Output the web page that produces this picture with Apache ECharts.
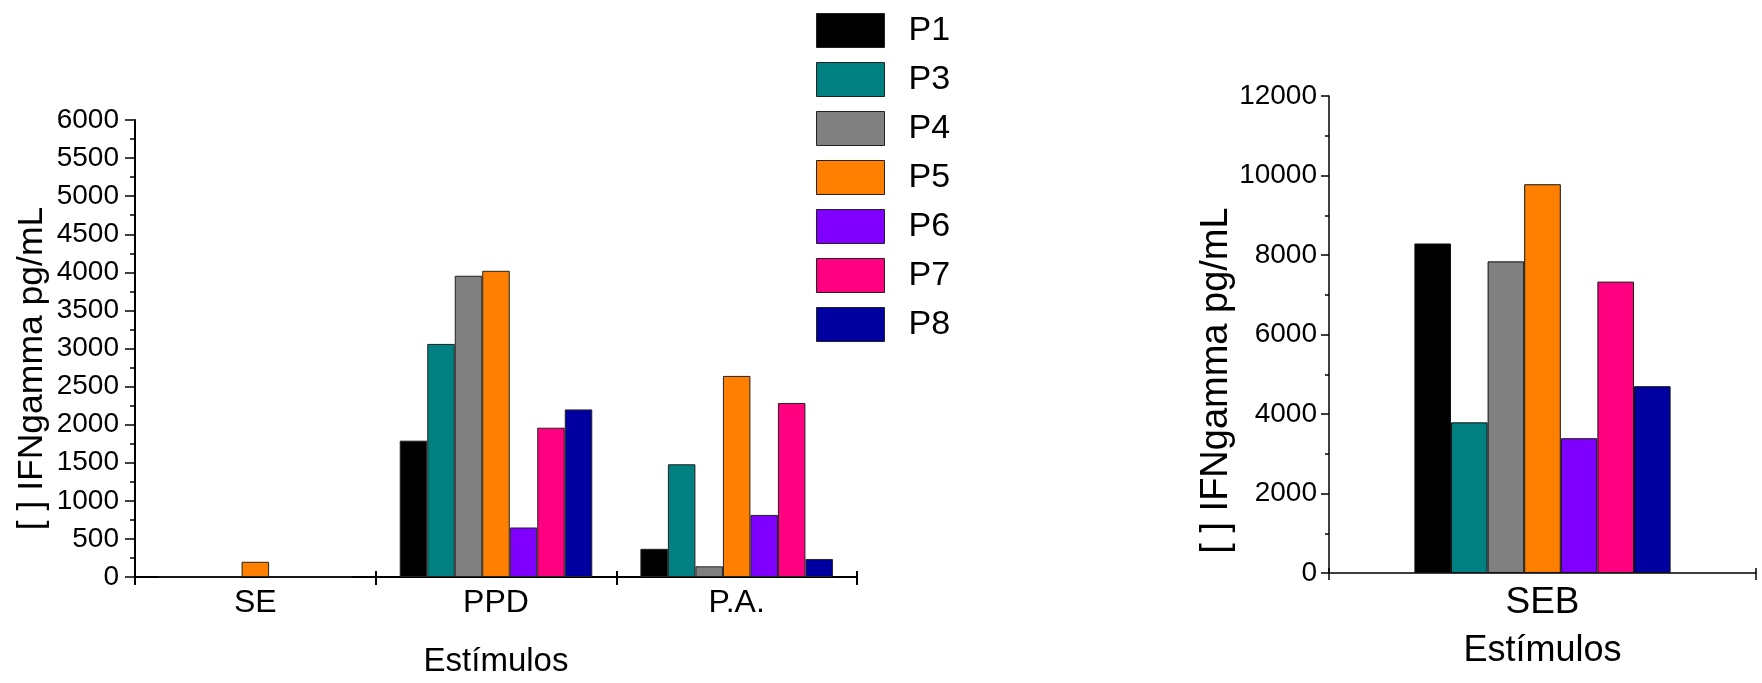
<!DOCTYPE html>
<html>
<head>
<meta charset="utf-8">
<script src="https://cdn.jsdelivr.net/npm/echarts@6/dist/echarts.min.js"></script>
<style>
  html, body { margin: 0; padding: 0; background: #fff; }
  #chart { width: 1762px; height: 683px; }
</style>
</head>
<body>
<div id="chart"></div>
<script>
// IFN-gamma concentration (pg/mL) per participant and stimulus
const participants = ['P1', 'P3', 'P4', 'P5', 'P6', 'P7', 'P8'];
const stimuliLeft = ['SE', 'PPD', 'P.A.'];
const stimuliRight = ['SEB'];

const valuesSE  = [0, 0, 0, 200, 0, 0, 0];
const valuesPPD = [1790, 3060, 3955, 4020, 650, 1960, 2200];
const valuesPA  = [370, 1480, 140, 2640, 815, 2285, 237];
const valuesSEB = [8290, 3790, 7840, 9780, 3390, 7330, 4700];

const colors = ['#000000', '#008080', '#808080', '#ff8000', '#8000ff', '#ff0080', '#0000a0'];

const yTitle = '[ ] IFNgamma pg/mL';
const xTitle = 'Estímulos';

const sans = '"Liberation Sans", Arial, Helvetica, sans-serif';
const narrow = '"Liberation Sans Narrow", "Arial Narrow", "Liberation Sans", Arial, sans-serif';

const plain = v => String(v);

const chart = echarts.init(document.getElementById('chart'), null, { renderer: 'canvas' });

const series = [];
participants.forEach((name, i) => {
  series.push({
    name: name,
    type: 'bar',
    xAxisIndex: 0,
    yAxisIndex: 0,
    barGap: '0%',
    barCategoryGap: '20%',
    itemStyle: { color: colors[i], borderColor: '#222', borderWidth: 1 },
    emphasis: { disabled: true },
    data: [valuesSE[i], valuesPPD[i], valuesPA[i]]
  });
});
participants.forEach((name, i) => {
  series.push({
    name: name,
    type: 'bar',
    xAxisIndex: 1,
    yAxisIndex: 1,
    barGap: '0%',
    barCategoryGap: '40%',
    itemStyle: { color: colors[i], borderColor: '#111', borderWidth: 1 },
    emphasis: { disabled: true },
    data: [valuesSEB[i]]
  });
});

// category boundary ticks that also rise above the baseline
const innerTicks = (gridIndex, data, width, len) => ({
  gridIndex: gridIndex,
  type: 'category',
  position: 'bottom',
  data: data,
  axisLine: { show: false },
  axisTick: { show: true, inside: true, length: len, lineStyle: { color: '#000', width: width } },
  axisLabel: { show: false },
  splitLine: { show: false }
});

chart.setOption({
  animation: false,
  backgroundColor: '#fff',
  textStyle: { fontFamily: sans },
  legend: {
    data: participants,
    orient: 'vertical',
    left: 816,
    top: 13,
    padding: 0,
    itemWidth: 68,
    itemHeight: 34,
    itemGap: 14,
    icon: 'rect',
    textStyle: { fontSize: 34, color: '#000', fontFamily: sans, padding: [0, 0, 0, 19] },
    itemStyle: { borderColor: '#222', borderWidth: 1 }
  },
  grid: [
    { left: 135, top: 120, width: 722, height: 464 },
    { left: 1329, top: 96, width: 427, height: 477 }
  ],
  xAxis: [
    {
      gridIndex: 0,
      type: 'category',
      position: 'bottom',
      data: stimuliLeft,
      axisLine: { show: true, lineStyle: { color: '#000', width: 2 } },
      axisTick: { show: true, length: 8, lineStyle: { color: '#000', width: 2 } },
      axisLabel: { color: '#000', fontSize: 32, fontFamily: sans, margin: 10 },
      name: xTitle,
      nameLocation: 'middle',
      nameGap: 68,
      nameTextStyle: { color: '#000', fontSize: 33, fontFamily: sans }
    },
    {
      gridIndex: 1,
      type: 'category',
      position: 'bottom',
      data: stimuliRight,
      axisLine: { show: true, lineStyle: { color: '#000', width: 1.5 } },
      axisTick: { show: true, length: 7, lineStyle: { color: '#000', width: 1.5 } },
      axisLabel: { color: '#000', fontSize: 37, fontFamily: narrow, margin: 11 },
      name: xTitle,
      nameLocation: 'middle',
      nameGap: 60,
      nameTextStyle: { color: '#000', fontSize: 36, fontFamily: narrow }
    },
    innerTicks(0, stimuliLeft, 2, 6),
    innerTicks(1, stimuliRight, 1.5, 5)
  ],
  yAxis: [
    {
      gridIndex: 0,
      type: 'value',
      min: 0,
      max: 6000,
      interval: 500,
      axisLine: { show: true, lineStyle: { color: '#000', width: 2 } },
      axisTick: { show: true, length: 10, lineStyle: { color: '#000', width: 1.5 } },
      minorTick: { show: true, splitNumber: 2, length: 5, lineStyle: { color: '#000', width: 1.5 } },
      splitLine: { show: false },
      axisLabel: { color: '#000', fontSize: 28, fontFamily: sans, margin: 16, formatter: plain },
      name: yTitle,
      nameLocation: 'middle',
      nameGap: 85,
      nameRotate: 90,
      nameTextStyle: { color: '#000', fontSize: 35.5, fontFamily: sans, padding: [0, 40, 0, 0] }
    },
    {
      gridIndex: 1,
      type: 'value',
      min: 0,
      max: 12000,
      interval: 2000,
      axisLine: { show: true, lineStyle: { color: '#000', width: 1.5 } },
      axisTick: { show: true, length: 8, lineStyle: { color: '#000', width: 1.5 } },
      minorTick: { show: true, splitNumber: 2, length: 4, lineStyle: { color: '#000', width: 1.5 } },
      splitLine: { show: false },
      axisLabel: { color: '#000', fontSize: 28, fontFamily: narrow, margin: 12, formatter: plain },
      name: yTitle,
      nameLocation: 'middle',
      nameGap: 74,
      nameRotate: 90,
      nameTextStyle: { color: '#000', fontSize: 38, fontFamily: narrow, padding: [0, 92, 0, 0] }
    }
  ],
  series: series
});
</script>
</body>
</html>
